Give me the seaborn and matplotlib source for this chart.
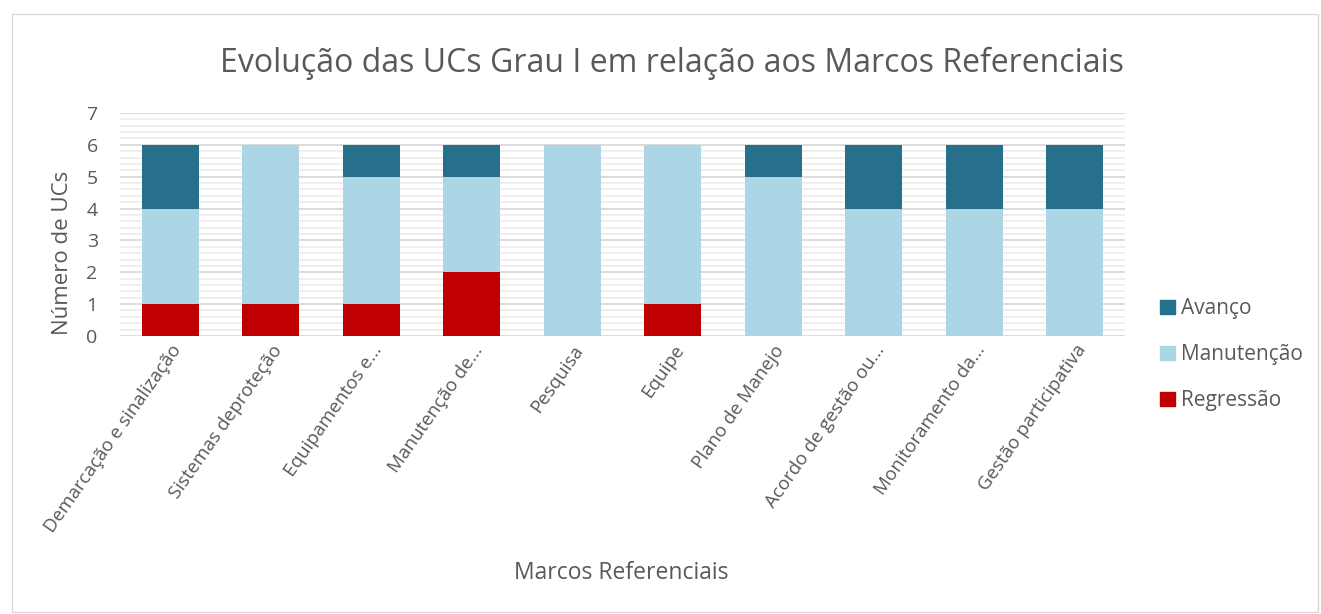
import matplotlib.pyplot as plt
import seaborn as sns
import pandas as pd
import numpy as np
from matplotlib.patches import Rectangle, Patch
from matplotlib.ticker import MultipleLocator

# data
marcos = ["Demarcação e sinalização", "Sistemas deproteção", "Equipamentos e...",
          "Manutenção de...", "Pesquisa", "Equipe", "Plano de Manejo",
          "Acordo de gestão ou...", "Monitoramento da...", "Gestão participativa"]
regressao = [1, 1, 1, 2, 0, 1, 0, 0, 0, 0]
manutencao = [3, 5, 4, 3, 6, 5, 5, 4, 4, 4]
avanco = [2, 0, 1, 1, 0, 0, 1, 2, 2, 2]

df = pd.DataFrame({"marco": marcos, "Regressão": regressao,
                   "Manutenção": manutencao, "Avanço": avanco})
df["ate_manut"] = df["Regressão"] + df["Manutenção"]
df["total"] = df["ate_manut"] + df["Avanço"]

cores = {"Avanço": "#26708b", "Manutenção": "#acd5e6", "Regressão": "#c00000"}
txt = "#595959"

sns.set_style("white")
plt.rcParams["font.family"] = ["Open Sans", "DejaVu Sans"]

fig = plt.figure(figsize=(13.21, 6.14), dpi=100)
ax = fig.add_axes([0.0908, 0.4528, 0.7608, 0.3632])

# stacked bars drawn as overlapping cumulative totals
for col, nome in [("total", "Avanço"), ("ate_manut", "Manutenção"), ("Regressão", "Regressão")]:
    sns.barplot(data=df, x="marco", y=col, color=cores[nome], width=0.57,
                saturation=1, linewidth=0, ax=ax, zorder=3)

ax.set_ylim(0, 7)
ax.set_xlim(-0.5, 9.5)
ax.yaxis.set_major_locator(MultipleLocator(1))
ax.yaxis.set_minor_locator(MultipleLocator(0.2))
ax.grid(axis="y", which="major", color="#d9d9d9", linewidth=1.3, zorder=0)
ax.grid(axis="y", which="minor", color="#eeeeee", linewidth=1.3, zorder=0)
ax.set_axisbelow(True)
for s in ax.spines.values():
    s.set_visible(False)
ax.tick_params(axis="both", length=0, labelsize=13.5, colors=txt, pad=4)
ax.tick_params(axis="y", labelsize=14, pad=16)
ax.set_xticks(range(len(marcos)))
ax.set_xticklabels(marcos, rotation=55, ha="right", rotation_mode="anchor")

ax.set_ylabel("")
ax.set_xlabel("")
fig.text(0.047, 0.588, "Número de UCs", fontsize=16, color=txt, ha="center",
         va="center", rotation=90)
fig.text(0.47, 0.067, "Marcos Referenciais", fontsize=16.5, color=txt, ha="center", va="center")
fig.text(0.509, 0.897, "Evolução das UCs Grau I em relação aos Marcos Referenciais",
         fontsize=23, color=txt, ha="center", va="center")

handles = [Patch(color=cores[n], label=n) for n in ["Avanço", "Manutenção", "Regressão"]]
fig.legend(handles=handles, loc="center left", bbox_to_anchor=(0.864, 0.422),
           frameon=False, fontsize=15, labelcolor=txt, handlelength=0.7,
           handleheight=0.7, handletextpad=0.3, labelspacing=1.2)

fig.patches.append(Rectangle((0.009, 0.003), 0.989, 0.974, transform=fig.transFigure,
                             fill=False, edgecolor="#d9d9d9", linewidth=1))

fig.savefig("out.png", dpi=100)
